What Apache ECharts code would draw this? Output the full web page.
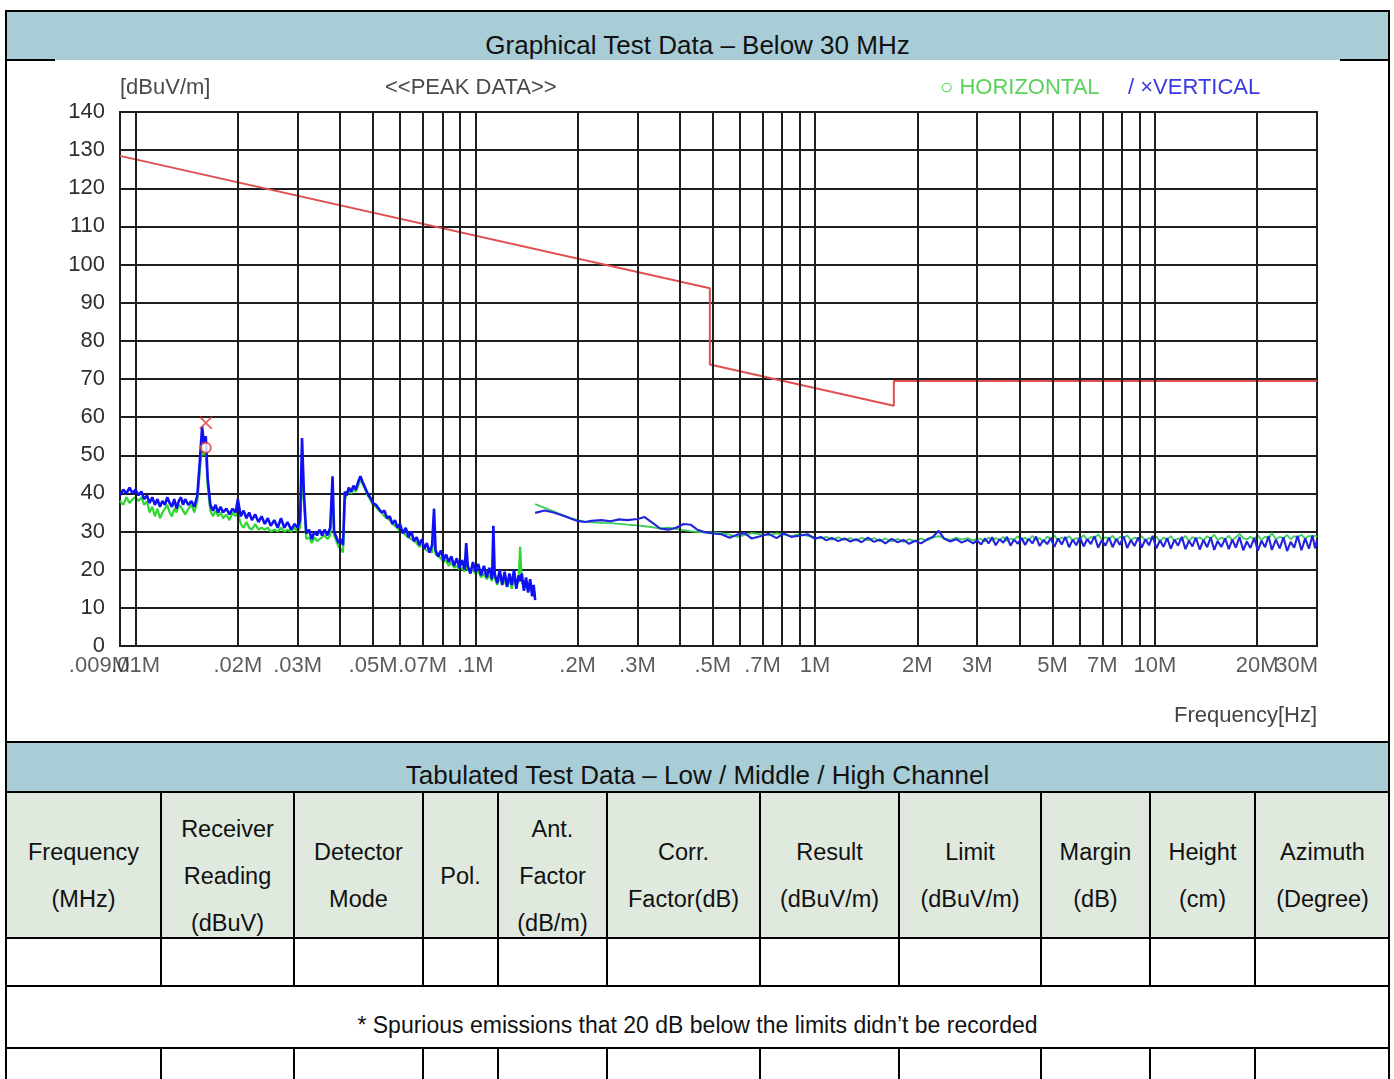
<!DOCTYPE html>
<html>
<head>
<meta charset="utf-8">
<script src="https://cdn.jsdelivr.net/npm/echarts@6.0.0/dist/echarts.min.js"></script>
<style>
html,body{margin:0;padding:0;background:#fff;}
#page{position:relative;width:1394px;height:1079px;overflow:hidden;font-family:"Liberation Sans",Arial,sans-serif;color:#111;}
.hl{position:absolute;height:2px;background:#000;z-index:3;}
.vl{position:absolute;width:2px;background:#000;z-index:3;}
.bar{position:absolute;background:#a9cdd6;}
.ttl{position:absolute;left:7px;width:1381px;text-align:center;font-size:26px;height:30px;line-height:30px;color:#111;}
.hdr{position:absolute;top:792px;height:146px;box-sizing:border-box;padding-top:22px;display:flex;flex-direction:column;justify-content:center;align-items:center;font-size:23.5px;line-height:47px;text-align:center;color:#111;white-space:nowrap;}
#chart{position:absolute;left:0;top:0;width:1394px;height:742px;z-index:2;}
</style>
</head>
<body>
<div id="page">
  <div class="bar" style="left:7px;top:12px;width:1381px;height:48px;"></div>
  <div class="ttl" style="top:30px;">Graphical Test Data – Below 30 MHz</div>
  <div class="bar" style="left:7px;top:742px;width:1381px;height:50px;"></div>
  <div class="ttl" style="top:760px;">Tabulated Test Data – Low / Middle / High Channel</div>
  <div style="position:absolute;left:7px;top:792px;width:1381px;height:146px;background:#dfe9de;"></div>

  <div class="hl" style="left:5px;top:10px;width:1385px;"></div>
  <div class="vl" style="left:5px;top:10px;height:1069px;"></div>
  <div class="vl" style="left:1388px;top:10px;height:1069px;"></div>
  <div class="hl" style="left:5px;top:59px;width:50px;"></div>
  <div class="hl" style="left:1340px;top:59px;width:50px;"></div>
  <div class="hl" style="left:5px;top:741px;width:1385px;"></div>
  <div class="hl" style="left:5px;top:791px;width:1385px;"></div>
  <div class="hl" style="left:5px;top:937px;width:1385px;"></div>
  <div class="hl" style="left:5px;top:985px;width:1385px;"></div>
  <div class="hl" style="left:5px;top:1047px;width:1385px;"></div>

  <div id="cols"></div>

  <div style="position:absolute;left:7px;top:1008px;width:1381px;height:34px;line-height:34px;text-align:center;font-size:23px;color:#111;">* Spurious emissions that 20 dB below the limits didn’t be recorded</div>

  <div id="chart"></div>
</div>
<script>
// ---------------- table layout ----------------
const colEdges = [6, 161, 294, 423, 498, 607, 760, 899, 1041, 1150, 1255, 1390];
const headerTexts = [
  ['Frequency', '(MHz)'],
  ['Receiver', 'Reading', '(dBuV)'],
  ['Detector', 'Mode'],
  ['Pol.'],
  ['Ant.', 'Factor', '(dB/m)'],
  ['Corr.', 'Factor(dB)'],
  ['Result', '(dBuV/m)'],
  ['Limit', '(dBuV/m)'],
  ['Margin', '(dB)'],
  ['Height', '(cm)'],
  ['Azimuth', '(Degree)']
];
(function buildTable() {
  const host = document.getElementById('cols');
  let html = '';
  for (let i = 1; i < colEdges.length - 1; i++) {
    const x = colEdges[i] - 1;
    html += '<div class="vl" style="left:' + x + 'px;top:792px;height:194px;"></div>';
    html += '<div class="vl" style="left:' + x + 'px;top:1048px;height:40px;"></div>';
  }
  for (let i = 0; i < headerTexts.length; i++) {
    const l = colEdges[i], r = colEdges[i + 1];
    html += '<div class="hdr" style="left:' + l + 'px;width:' + (r - l) + 'px;">' +
      headerTexts[i].map(t => '<div>' + t + '</div>').join('') + '</div>';
  }
  host.innerHTML = html;
})();

// ---------------- chart data ----------------
const tickFreq = [0.009, 0.01, 0.02, 0.03, 0.05, 0.07, 0.1, 0.2, 0.3, 0.5, 0.7, 1, 2, 3, 5, 7, 10, 20, 30];
const tickText = ['.009M', '.01M', '.02M', '.03M', '.05M', '.07M', '.1M', '.2M', '.3M', '.5M', '.7M', '1M', '2M', '3M', '5M', '7M', '10M', '20M', '30M'];
const gridFreq = [0.01, 0.02, 0.03, 0.04, 0.05, 0.06, 0.07, 0.08, 0.09,
  0.1, 0.2, 0.3, 0.4, 0.5, 0.6, 0.7, 0.8, 0.9,
  1, 2, 3, 4, 5, 6, 7, 8, 9, 10, 20];

const limitFreq = [0.009, 0.49, 0.49, 1.705, 1.705, 30];
const limitLevel = [128.5, 93.8, 73.8, 63.0, 69.5, 69.5];

const lowFreq = [
  0.0090, 0.0092, 0.0094, 0.0096, 0.0098, 0.0100, 0.0102, 0.0104, 0.0106, 0.0108,
  0.0110, 0.0112, 0.0114, 0.0116, 0.0118, 0.0120, 0.0122, 0.0124, 0.0126, 0.0128,
  0.0130, 0.0132, 0.0134, 0.0136, 0.0138, 0.0140, 0.0143, 0.0146, 0.0149, 0.0152,
  0.0155, 0.0157, 0.0159, 0.0161, 0.0163, 0.0166, 0.0169, 0.0172, 0.0175, 0.0178,
  0.0181, 0.0185, 0.0189, 0.0193, 0.0197, 0.0200, 0.0204, 0.0208, 0.0212, 0.0216,
  0.0220, 0.0225, 0.0230, 0.0235, 0.0240, 0.0245, 0.0250, 0.0256, 0.0262, 0.0268,
  0.0274, 0.0280, 0.0287, 0.0294, 0.0300, 0.0305, 0.0309, 0.0313, 0.0318, 0.0324,
  0.0330, 0.0336, 0.0342, 0.0348, 0.0354, 0.0360, 0.0367, 0.0374, 0.0380, 0.0384,
  0.0390, 0.0396, 0.0402, 0.0408, 0.0413, 0.0418, 0.0424, 0.0431, 0.0438, 0.0445,
  0.0452, 0.0459, 0.0466, 0.0474, 0.0482, 0.0490, 0.0500, 0.0510, 0.0520, 0.0530,
  0.0540, 0.0550, 0.0560, 0.0570, 0.0580, 0.0590, 0.0600, 0.0612, 0.0624, 0.0636,
  0.0648, 0.0660, 0.0672, 0.0684, 0.0696, 0.0708, 0.0720, 0.0733, 0.0746, 0.0756,
  0.0764, 0.0778, 0.0792, 0.0806, 0.0820, 0.0835, 0.0850, 0.0866, 0.0882, 0.0898,
  0.0914, 0.0930, 0.0940, 0.0950, 0.0967, 0.0984, 0.1000, 0.1020, 0.1040, 0.1060,
  0.1080, 0.1100, 0.1120, 0.1130, 0.1140, 0.1160, 0.1180, 0.1200, 0.1220, 0.1240,
  0.1260, 0.1280, 0.1300, 0.1320, 0.1340, 0.1355, 0.1370, 0.1390, 0.1410, 0.1430,
  0.1450, 0.1470, 0.1485, 0.1500
];
const lowVert = [
  39.5, 41, 40, 41.5, 40, 41, 39.5, 40.5, 38.5, 39.5,
  37.5, 39, 37, 38.5, 36.5, 38, 37, 39, 37.5, 36.5,
  38.5, 36, 38, 39, 37, 38.5, 37, 38, 36.5, 39.5,
  50, 57.5, 53, 55, 44, 37, 35.5, 37, 35, 36.5,
  35, 36, 34.5, 36, 35, 38.5, 34, 35.5, 33.5, 35,
  33, 34.5, 32.5, 34, 32, 33.5, 31.5, 33, 31, 33.5,
  31, 32.5, 30.5, 32, 31, 33, 54.5, 40, 29.5, 30.5,
  28, 30, 29, 30.5, 29, 30.5, 29, 31, 44.5, 30,
  28.5, 27, 28, 26.5, 40.5, 39.5, 41.5, 40.5, 42, 41,
  43, 44.5, 43, 41.5, 40, 39, 37.5, 37, 36, 35,
  35.5, 33.5, 34, 32, 33, 31, 32, 29.5, 31, 28.5,
  30, 27.5, 28.5, 26.5, 28, 25.5, 27, 24.5, 26.5, 36,
  25, 23.5, 25, 22.5, 24, 22, 23.5, 21, 23, 20.5,
  22.5, 20, 27, 21, 19, 22, 19.5, 21.5, 18.5, 21,
  18, 20.5, 17.5, 31.5, 19, 16.5, 20, 16, 19.5, 15.5,
  19, 16, 20, 15, 18.5, 17, 19, 14.5, 18, 14,
  17.5, 13, 16, 12
];
const lowHoriz = [
  38, 37, 39, 37.5, 38.5, 39, 38, 39, 37, 38,
  35, 36.5, 34, 36, 33.5, 35, 36, 37, 35, 34,
  36, 35, 37, 36.5, 35.5, 34.5, 36, 37, 35, 38,
  47, 52.5, 50, 51.5, 42, 35.5, 34, 35.5, 34, 35,
  33.5, 34.5, 33, 35, 34, 35, 32, 31, 32.5, 31,
  30.5, 32, 30.5, 31, 30.5, 31, 30, 30.5, 30, 31,
  30, 30.5, 30, 31, 30, 31, 44, 38, 28, 28.5,
  27, 28.5, 27.5, 28, 28.5, 29, 28, 29, 40, 29,
  27.5, 26, 25.5, 24.5, 38, 40, 40.5, 40, 41, 40.5,
  42, 43.5, 42.5, 41, 39.5, 38.5, 37, 36.5, 35.5, 35,
  34, 33.5, 33, 32, 31.5, 31, 30, 30, 29, 28.5,
  28, 27.5, 27, 26, 26.5, 25.5, 25, 25, 24.5, 30,
  24, 23.5, 23, 22, 22.5, 21, 22, 20.5, 21, 20,
  20.5, 19.5, 22, 20, 19.5, 20, 19, 19.5, 18, 19,
  17.5, 18.5, 17, 24, 18, 16, 18, 16.5, 17, 15.5,
  17.5, 15, 18, 15.5, 17, 26, 17, 15, 16, 14.5,
  16, 14, 15, 13
];

const highFreq = [
  0.15, 0.16, 0.17, 0.18, 0.19, 0.2, 0.21, 0.22, 0.235, 0.25,
  0.265, 0.28, 0.3, 0.315, 0.33, 0.35, 0.37, 0.39, 0.41, 0.43,
  0.45, 0.475, 0.5, 0.53, 0.56, 0.59, 0.62, 0.65, 0.69, 0.73,
  0.77, 0.81, 0.85, 0.9, 0.95, 1.0, 1.04, 1.08, 1.12, 1.17,
  1.22, 1.27, 1.32, 1.37, 1.43, 1.49, 1.55, 1.61, 1.68, 1.75,
  1.82, 1.89, 1.97, 2.05, 2.13, 2.22, 2.31, 2.4, 2.5, 2.6,
  2.7, 2.81, 2.92, 3.0, 3.08, 3.16, 3.24, 3.32, 3.4, 3.49,
  3.58, 3.67, 3.76, 3.85, 3.95, 4.05, 4.15, 4.25, 4.36, 4.47,
  4.58, 4.7, 4.82, 4.94, 5.06, 5.19, 5.32, 5.45, 5.59, 5.73,
  5.87, 6.02, 6.17, 6.32, 6.48, 6.64, 6.81, 6.98, 7.15, 7.33,
  7.51, 7.7, 7.89, 8.09, 8.29, 8.5, 8.71, 8.93, 9.15, 9.38,
  9.61, 9.85, 10.1, 10.35, 10.6, 10.87, 11.14, 11.42, 11.7, 12.0,
  12.3, 12.6, 12.9, 13.2, 13.55, 13.9, 14.25, 14.6, 14.95, 15.3,
  15.7, 16.1, 16.5, 16.9, 17.3, 17.75, 18.2, 18.65, 19.1, 19.6,
  20.1, 20.6, 21.1, 21.6, 22.1, 22.7, 23.3, 23.9, 24.5, 25.1,
  25.7, 26.3, 27.0, 27.7, 28.4, 29.1, 29.6, 30.0
];
const highVert = [
  34.9, 35.5, 35, 34.3, 33.5, 32.8, 32.5, 32.8, 33, 32.7,
  33.2, 33, 33.3, 33.8, 32.5, 30.8, 30.5, 31, 32, 31.8,
  30.5, 29.8, 29.5, 29.3, 28.4, 29.2, 29.6, 28.2, 28.8, 29.4,
  28.3, 29.5, 28.6, 28.9, 29.3, 28.1, 28.6, 27.7, 28.3, 27.5,
  28.2, 27.4, 28, 27.2, 28.4, 27.3, 27.9, 26.9, 28.1, 27.2,
  27.8, 26.8, 27.6, 26.9, 27.9, 28.6, 30.2, 28.1, 27.4, 28,
  27.1, 27.8, 26.9, 27.7, 26.6, 28.2, 26.9, 28.5, 26.4, 28.0,
  27.1, 28.6, 26.3, 27.9, 26.8, 28.4, 26.5, 28.1, 26.9, 28.7,
  26.2, 27.8, 26.7, 28.3, 26.0, 28.2, 26.6, 28.6, 25.9, 27.9,
  26.4, 28.5, 26.1, 28.0, 26.7, 28.8, 25.8, 27.7, 26.3, 28.4,
  25.9, 28.1, 26.5, 28.7, 25.7, 27.8, 26.2, 28.5, 25.8, 28.0,
  26.4, 28.9, 25.6, 27.7, 26.0, 28.3, 25.5, 27.9, 26.3, 28.6,
  25.4, 27.6, 26.1, 28.4, 25.3, 27.8, 25.9, 28.5, 25.2, 27.5,
  26.0, 28.2, 25.4, 27.9, 25.8, 28.6, 25.1, 27.4, 25.7, 28.3,
  25.0, 27.6, 25.9, 28.8, 25.2, 27.9, 25.6, 28.5, 24.9, 27.3,
  25.8, 28.9, 25.1, 28.2, 25.5, 29.0, 25.6, 27.8
];
const highHoriz = [
  37.2, 36.2, 35.3, 34.4, 33.6, 33, 32.6, 32.4, 32.3, 32.2,
  32, 31.8, 31.6, 31.4, 31.2, 30.8, 31, 30.7, 30.4, 30.1,
  29.9, 29.7, 29.8, 29.6, 29.2, 28.6, 29.1, 29.6, 29.3, 29,
  29.5, 29.2, 28.8, 29.3, 28.9, 28.5, 28.2, 28.6, 27.9, 28.5,
  27.8, 28.3, 27.6, 28.4, 27.7, 28.3, 27.5, 28.2, 27.4, 28.1,
  27.3, 28, 27.5, 28.2, 27.6, 28.4, 28.8, 28.2, 27.8, 28.4,
  27.9, 28.3, 27.7, 28.2, 28.0, 27.4, 28.5, 27.6, 28.3, 27.8,
  28.6, 27.5, 28.2, 27.9, 28.8, 27.6, 28.4, 27.7, 28.9, 27.8,
  28.3, 27.4, 28.7, 28.1, 29.0, 27.6, 28.5, 27.9, 28.8, 27.7,
  28.3, 28.0, 29.1, 27.8, 28.6, 28.2, 29.3, 27.9, 28.5, 28.0,
  28.9, 27.7, 28.6, 28.3, 29.0, 27.8, 28.4, 28.1, 28.8, 27.6,
  28.3, 28.0, 28.7, 27.5, 28.4, 27.9, 28.8, 27.6, 28.2, 27.8,
  28.9, 27.5, 28.6, 27.9, 28.5, 27.7, 28.8, 28.1, 29.2, 27.8,
  28.4, 28.0, 28.9, 27.7, 28.5, 29.4, 28.3, 27.9, 28.6, 28.1,
  29.0, 27.8, 28.7, 28.2, 29.6, 28.0, 28.6, 28.3, 29.1, 28.0,
  28.8, 28.4, 29.2, 28.1, 28.9, 28.5, 29.0, 28.6
];

const peakFreq = [0.0161];
const peakVert = [58.5];
const peakHoriz = [52];

// ---------------- chart ----------------
const FONT = '"Liberation Sans", Arial, sans-serif';
const pairs = (xs, ys) => xs.map((x, i) => [x, ys[i]]);
const GRIDC = '#1e1e1e';

const chart = echarts.init(document.getElementById('chart'), null, { renderer: 'canvas' });
const lastTick = tickFreq.length - 1;

chart.setOption({
  animation: false,
  grid: { left: 120, top: 112, width: 1197, height: 534, show: true, borderColor: GRIDC, borderWidth: 2, backgroundColor: 'rgba(0,0,0,0)' },
  xAxis: {
    type: 'log', logBase: 10, min: 0.009, max: 30,
    axisLine: { show: false }, axisTick: { show: false }, axisLabel: { show: false },
    splitLine: { show: false }, minorTick: { show: false }, minorSplitLine: { show: false }
  },
  yAxis: {
    type: 'value', min: 0, max: 140, interval: 10,
    axisLine: { show: false }, axisTick: { show: false },
    axisLabel: { fontSize: 22, color: '#2e2e2e', fontFamily: FONT, margin: 15 },
    splitLine: { show: true, lineStyle: { color: GRIDC, width: 2 } }
  },
  graphic: [
    { type: 'text', x: 120, y: 88, style: { text: '[dBuV/m]', font: '22px ' + FONT, fill: '#4a4a4a', verticalAlign: 'middle' } },
    { type: 'text', x: 385, y: 88, style: { text: '<<PEAK DATA>>', font: '22px ' + FONT, fill: '#4a4a4a', verticalAlign: 'middle' } },
    { type: 'text', x: 940, y: 88, style: { text: '○ HORIZONTAL', font: '22px ' + FONT, fill: '#5ad25a', verticalAlign: 'middle' } },
    { type: 'text', x: 1128, y: 88, style: { text: '/ ×VERTICAL', font: '22px ' + FONT, fill: '#3a3ae0', verticalAlign: 'middle' } },
    { type: 'text', x: 1317, y: 716, style: { text: 'Frequency[Hz]', font: '22px ' + FONT, fill: '#444', align: 'right', verticalAlign: 'middle' } }
  ],
  series: [
    {
      type: 'scatter', name: 'gridlines', data: [[0.009, 0]], symbolSize: 0, silent: true, z: 1,
      markLine: {
        silent: true, symbol: 'none', animation: false, label: { show: false },
        lineStyle: { color: GRIDC, width: 2, type: 'solid' },
        emphasis: { disabled: true },
        data: gridFreq.map(f => ({ xAxis: f }))
      }
    },
    {
      type: 'scatter', name: 'ticklabels', symbolSize: 1, silent: true, clip: false, z: 7,
      itemStyle: { color: 'rgba(0,0,0,0)' },
      label: { show: true, position: 'bottom', distance: 8, fontSize: 22, color: '#333', fontFamily: FONT,
        formatter: p => tickText[p.dataIndex] },
      data: tickFreq.map((f, i) => {
        const item = { value: [f, 0] };
        if (i === 0) item.label = { align: 'right', offset: [10, 0] };
        if (i === lastTick) item.label = { align: 'right', offset: [1, 0] };
        return item;
      })
    },
    {
      type: 'line', name: 'Limit', data: pairs(limitFreq, limitLevel), symbol: 'none', z: 4,
      lineStyle: { color: '#e05050', width: 2 }
    },
    {
      type: 'line', name: 'Horizontal', data: pairs(lowFreq, lowHoriz), symbol: 'none', z: 3,
      lineStyle: { color: '#2fd62f', width: 2.2 }
    },
    {
      type: 'line', name: 'Horizontal', data: pairs(highFreq, highHoriz), symbol: 'none', z: 3,
      lineStyle: { color: '#3ccf5a', width: 1.8 }
    },
    {
      type: 'line', name: 'Vertical', data: pairs(lowFreq, lowVert), symbol: 'none', z: 5,
      lineStyle: { color: '#1010f5', width: 2.6 }
    },
    {
      type: 'line', name: 'Vertical', data: pairs(highFreq, highVert), symbol: 'none', z: 5,
      lineStyle: { color: '#2424dc', width: 2.1 }
    },
    {
      type: 'scatter', name: 'Vertical peak', data: pairs(peakFreq, peakVert), z: 6, silent: true,
      symbol: 'path://M0,0L10,10M10,0L0,10', symbolSize: 12,
      itemStyle: { color: 'rgba(0,0,0,0)', borderColor: '#e03a3a', borderWidth: 1.8 }
    },
    {
      type: 'scatter', name: 'Horizontal peak', data: pairs(peakFreq, peakHoriz), z: 6, silent: true,
      symbol: 'emptyCircle', symbolSize: 10,
      itemStyle: { color: '#e03a3a', borderColor: '#e03a3a', borderWidth: 1.6 }
    }
  ]
});
</script>
</body>
</html>
